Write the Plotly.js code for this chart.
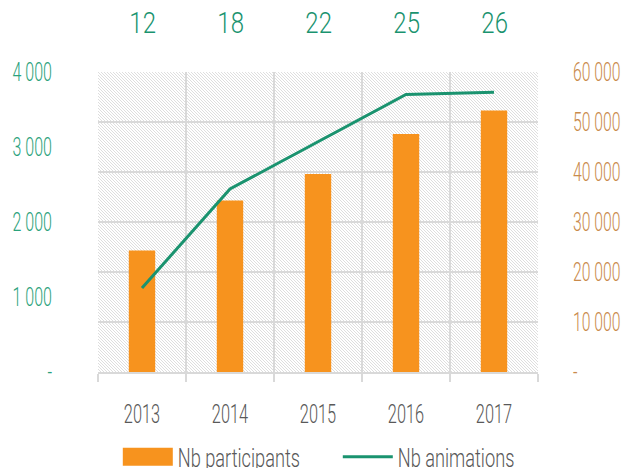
<!DOCTYPE html>
<html><head><meta charset="utf-8">
<script src="https://cdn.plot.ly/plotly-3.0.1.min.js"></script>
<style>html,body{margin:0;padding:0;background:#fff}#chart{width:625px;height:468px}</style>
</head><body><div id="chart"></div>
<script>
const years = ['2013','2014','2015','2016','2017'];
const participants = [24300, 34300, 39600, 47600, 52300];
const animations = [1120, 2440, 3070, 3700, 3730];
const topNumbers = [12, 18, 22, 25, 26];
const rightTickVals = [0,10000,20000,30000,40000,50000,60000];
const rightTickText = ['-','10 000','20 000','30 000','40 000','50 000','60 000'];
const leftTickVals = [0,1000,2000,3000,4000];
const leftTickText = ['-','1 000','2 000','3 000','4 000'];

const FONT = 'Roboto, "DejaVu Sans", sans-serif';
const svg = '<svg xmlns="http://www.w3.org/2000/svg" width="440" height="300">' +
  '<defs><pattern id="h" width="3" height="3" patternUnits="userSpaceOnUse">' +
  '<rect width="3" height="3" fill="#ffffff"/>' +
  '<path d="M-1,-1 L4,4 M2,-1 L4,1 M-1,2 L1,4" stroke="#d6d6d6" stroke-width="0.8"/>' +
  '</pattern></defs><rect width="440" height="300" fill="url(#h)"/></svg>';
const hatch = 'data:image/svg+xml;charset=utf-8,' + encodeURIComponent(svg);

const traces = [
  {type:'bar', name:'Nb participants', x:years, y:participants, yaxis:'y',
   marker:{color:'#f7931e'}, width:0.3},
  {type:'scatter', mode:'lines', name:'Nb animations', x:years, y:animations, yaxis:'y2',
   line:{color:'#1a936f', width:3}}
];

const annotations = years.map((yr,i)=>({
  x: i, xref:'x', y:1, yref:'paper', yshift:50, yanchor:'middle',
  text: String(topNumbers[i]), showarrow:false,
  font:{family:FONT, size:30, weight:300, color:'#1a936f'}
}));

const layout = {
  width:625, height:468,
  margin:{l:98, r:87, t:72, b:96, autoexpand:false},
  paper_bgcolor:'#ffffff', plot_bgcolor:'rgba(0,0,0,0)',
  showlegend:true,
  legend:{orientation:'h', x:1.045, xanchor:'right', y:-0.283, yanchor:'middle',
    bgcolor:'rgba(0,0,0,0)',
    font:{family:FONT, size:26, weight:300, color:'#595959'}, itemwidth:50,
    entrywidth:155, entrywidthmode:'pixels', traceorder:'normal'},
  xaxis:{type:'category', categoryarray:years, range:[-0.5,4.5], tickson:'boundaries',
    showgrid:true, gridcolor:'#d9d9d9', gridwidth:1.5,
    ticks:'outside', ticklen:8, tickcolor:'#d9d9d9', tickwidth:1.5, tickangle:0,
    showline:true, linecolor:'#d9d9d9', linewidth:1.5,
    tickfont:{family:FONT, size:26, weight:300, color:'#595959'}, ticklabelstandoff:18},
  yaxis:{side:'right', range:[0,60000], tickvals:rightTickVals, ticktext:rightTickText,
    showgrid:true, gridcolor:'#d9d9d9', gridwidth:1.5, zeroline:false,
    tickfont:{family:FONT, size:25, weight:300, color:'#c98a4b'}, ticklabelstandoff:34},
  yaxis2:{side:'left', overlaying:'y', range:[0,4000], tickvals:leftTickVals, ticktext:leftTickText,
    showgrid:false, zeroline:false,
    tickfont:{family:FONT, size:25, weight:300, color:'#2ba27c'}, ticklabelstandoff:45},
  images:[{source:hatch, xref:'paper', yref:'paper', x:0, y:1, sizex:1, sizey:1,
    sizing:'stretch', layer:'below', xanchor:'left', yanchor:'top'}],
  annotations: annotations
};

function squeeze(sel, f){
  document.querySelectorAll(sel).forEach(t=>{
    const w = t.getComputedTextLength();
    if (w > 0){ t.setAttribute('textLength', (w*f).toFixed(1)); t.setAttribute('lengthAdjust','spacingAndGlyphs'); }
  });
}
Plotly.newPlot('chart', traces, layout, {displayModeBar:false, staticPlot:true}).then(()=>{
  squeeze('.xtick text', 0.63);
  squeeze('.ytick text', 0.63);
  squeeze('.y2tick text', 0.64);
  squeeze('.legendtext', 0.70);
  squeeze('.annotation-text', 0.8);
  const first = document.querySelector('.legend .traces .legendpoints path');
  if (first) first.setAttribute('d','M25,9H-25V-9H25Z');
});
</script></body></html>
